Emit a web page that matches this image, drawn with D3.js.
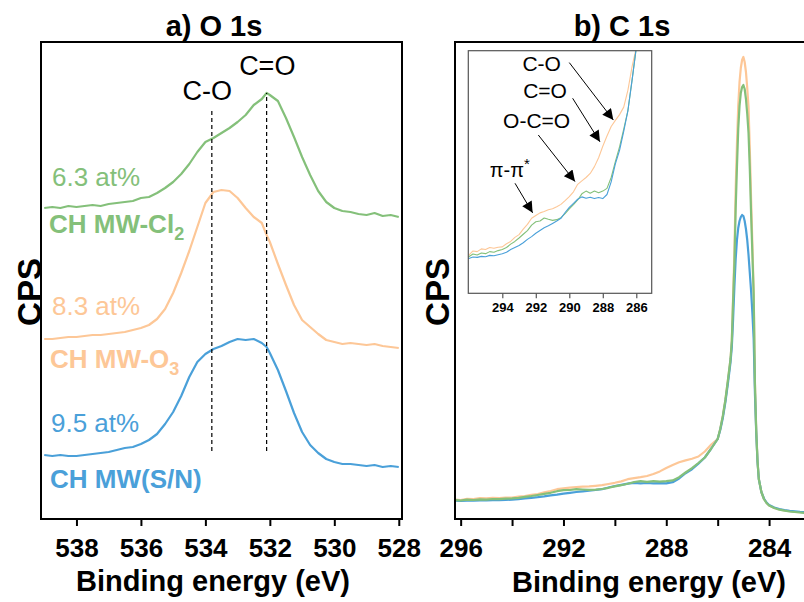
<!DOCTYPE html>
<html><head><meta charset="utf-8">
<script src="https://cdn.jsdelivr.net/npm/d3@7"></script>
<style>
body{margin:0;background:#fff;}
svg{display:block;font-family:"Liberation Sans",Arial,Helvetica,sans-serif;}
</style>
</head><body>
<svg id="chart" width="804" height="602"></svg>
<script>
// ---------------- DATA ----------------
// a) O 1s
const oEnergy = [539.0,538.75,538.5,538.25,538.0,537.75,537.5,537.25,537.0,536.75,536.5,536.25,536.0,535.75,535.5,535.25,535.0,534.75,534.5,534.25,534.0,533.75,533.5,533.25,533.0,532.75,532.5,532.25,532.1,532.0,531.75,531.5,531.25,531.0,530.75,530.5,530.25,530.0,529.75,529.5,529.25,529.0,528.75,528.5,528.25,528.0];
const oCl2 = [311,312,311,313,312,313,314,313,315,316,317,318,321,322,326,331,337,345,355,367,377,381,386,391,397,404,414,420,426,424,418,401,382,362,344,328,317,311,308,307,305,304,306,303,304,302];
const oO3  = [180,180,181,182,182,183,184,184,185,186,187,189,191,194,200,210,226,246,268,292,316,327,329,328,321,311,302,296,284,277,255,234,214,199,192,185,179,177,175,176,175,174,175,173,172,171];
const oSN  = [64,63,64,63,63,64,65,66,67,69,71,72,75,79,85,95,107,123,142,157,165,170,173,177,180,179,180,176,172,166,149,128,106,87,74,66,60,57,55,55,54,53,54,52,53,52];
const oTicks = [538,536,534,532,530,528];
const oMarkers = [{label:"C-O", energy:533.8, top:409}, {label:"C=O", energy:532.1, top:426}];

// b) C 1s
const cEnergy = [296.2,296.0,295.75,295.5,295.25,295.0,294.75,294.5,294.25,294.0,293.75,293.5,293.25,293.0,292.75,292.5,292.25,292.0,291.75,291.5,291.25,291.0,290.75,290.5,290.25,290.0,289.75,289.5,289.25,289.0,288.75,288.5,288.25,288.0,287.75,287.5,287.25,287.0,286.75,286.5,286.25,
  286.0,285.9,285.8,285.7,285.6,285.5,285.45,285.4,285.35,285.3,285.25,285.2,285.15,285.1,285.05,285.0,284.95,284.9,284.85,284.8,284.75,284.7,284.65,284.6,284.55,284.5,284.45,284.4,284.3,284.2,284.1,284.0,283.8,283.6,283.4,283.2,283.0,282.8,282.6,282.4];
const cO3 = [19.5,19.0,20.2,20.0,20.8,20.6,21.2,21.0,21.3,21.4,22.3,23.0,24.2,25.0,26.6,28.0,29.8,30.6,31.4,31.8,32.3,32.6,33.2,33.9,35.0,36.2,37.6,39.8,40.8,41.8,43.0,45.0,47.6,51.0,54.0,56.8,58.6,60.3,62.5,67.5,74.5,
  80,90,103,119,139,160,178,222,265,330,375,413,437,451,459,462,457,447,431,412,370,320,275,228,135,88,58,40,27,20,16,13.5,11,9.5,8.5,7.8,7.2,6.8,6.4,6.2];
const cCl2 = [18.8,18.5,19.3,19.0,19.6,19.4,20.0,19.8,20.3,20.6,21.2,22.2,23.0,24.0,25.1,26.2,27.8,28.8,29.0,29.9,29.5,29.2,29.4,30.0,31.2,32.6,33.8,35.2,37.0,37.8,37.2,37.8,37.3,37.8,38.6,41.8,46.5,50.8,56.0,61.5,70.5,
  80,90,103,119,139,160,178,218,255,310,352,390,413,426,432,434,430,420,405,386,350,305,265,225,135,88,58,40,27,20,16,13.5,11,9.3,8.3,7.5,7.0,6.5,6.1,5.9];
const cSN = [18.3,18.0,18.4,18.3,18.6,18.5,18.9,18.8,19.1,19.4,19.8,20.6,21.2,21.8,22.6,23.6,24.4,25.4,26.2,27.0,27.6,28.3,29.0,29.8,31.5,33.0,34.2,35.4,36.1,35.7,36.0,35.6,35.9,35.6,36.8,40.5,45.8,49.8,55.4,61.5,70.5,
  80,89,101,117,136,157,172,200,232,260,279,291,298,302,304,303,298,290,279,264,246,228,206,180,125,86,57,40,27,20.5,16.5,14,11.5,10,9,8.2,7.6,7.1,6.8,6.6];
const cTicks = [296,294,292,290,288,286,284];
const cTickLabels = [296,292,288,284];
const insetTicks = [294,292,290,288,286];
const insetNotes = [
  {label:"C-O",   tx:291.65, ty:73.2, x0:290.0,  y0:75.6, x1:287.37, y1:58.7},
  {label:"C=O",   tx:291.45, ty:65.1, x0:289.8,  y0:65.1, x1:288.17, y1:52.3},
  {label:"O-C=O", tx:291.95, ty:56.3, x0:291.85, y0:54.3, x1:289.66, y1:40.6},
  {label:"π-π",   tx:293.55, ty:42.0, x0:293.24, y0:40.1, x1:292.19, y1:31.4, sup:"*"}
];

// ---------------- STYLE ----------------
const COL = {SN:"#4aa0d9", O3:"#fdc797", Cl2:"#84c07a"};
const FONT = '"Liberation Sans",Arial,Helvetica,sans-serif';

const svg = d3.select("#chart");

// ============ PANEL A ============
const A = {l:41, r:402, t:42, b:519};
const ax = d3.scaleLinear().domain([539.1, 527.9]).range([A.l, A.r]);
const ay = d3.scaleLinear().domain([0, 477]).range([A.b, A.t]);

svg.append("text").attr("x",214).attr("y",36).attr("text-anchor","middle")
  .attr("font-size",29).attr("font-weight","bold").text("a) O 1s");

const lineA = (arr) => d3.line().x((d,i)=>ax(oEnergy[i])).y(d=>ay(d))(arr);
[[oCl2,COL.Cl2],[oO3,COL.O3],[oSN,COL.SN]].forEach(([arr,c])=>{
  svg.append("path").attr("d",lineA(arr)).attr("fill","none").attr("stroke",c)
    .attr("stroke-width",2.2).attr("stroke-linejoin","round");
});

// dashed markers
oMarkers.forEach(m=>{
  svg.append("line").attr("x1",ax(m.energy)).attr("x2",ax(m.energy))
    .attr("y1",ay(68)).attr("y2",ay(m.top))
    .attr("stroke","#000").attr("stroke-width",1.2).attr("stroke-dasharray","4,3");
});
svg.append("text").attr("x",ax(533.94)).attr("y",ay(419)).attr("text-anchor","middle")
  .attr("font-size",27).text("C-O");
svg.append("text").attr("x",ax(532.08)).attr("y",ay(444)).attr("text-anchor","middle")
  .attr("font-size",27).text("C=O");

// labels
function label(x,y,txt,sub,color,bold){
  const t = svg.append("text").attr("x",x).attr("y",y).attr("fill",color)
    .attr("font-size",26).attr("font-weight",bold?"bold":"normal");
  t.append("tspan").text(txt);
  if(sub) t.append("tspan").attr("dy",7).attr("font-size",18).text(sub);
}
label(52,186,"6.3 at%",null,COL.Cl2,false);
label(49,233,"CH MW-Cl","2",COL.Cl2,true);
label(52,315,"8.3 at%",null,COL.O3,false);
label(50,368,"CH MW-O","3",COL.O3,true);
label(51,432,"9.5 at%",null,COL.SN,false);
label(50,488,"CH MW(S/N)",null,COL.SN,true);

// frame
svg.append("rect").attr("x",A.l).attr("y",A.t).attr("width",A.r-A.l).attr("height",A.b-A.t)
  .attr("fill","none").attr("stroke","#000").attr("stroke-width",2);
const axA = svg.append("g").attr("transform",`translate(0,${A.b})`)
  .call(d3.axisBottom(ax).tickValues(oTicks).tickSize(7).tickPadding(13).tickFormat(d3.format("d")));
axA.select(".domain").remove();
axA.selectAll("line").attr("stroke-width",2);
axA.selectAll("text").attr("font-size",26).attr("font-weight","bold").attr("font-family",FONT).attr("fill","#000");

svg.append("text").attr("x",213).attr("y",591).attr("text-anchor","middle")
  .attr("font-size",29).attr("font-weight","bold").text("Binding energy (eV)");
svg.append("text").attr("transform","translate(41,292) rotate(-90)").attr("text-anchor","middle")
  .attr("font-size",33).attr("font-weight","bold").text("CPS");

// ============ PANEL B ============
const B = {l:455, r:830, t:42, b:519};
const bx = d3.scaleLinear().domain([296.22, 281.63]).range([B.l, B.r]);
const by = d3.scaleLinear().domain([0, 477]).range([B.b, B.t]);

svg.append("text").attr("x",622).attr("y",36).attr("text-anchor","middle")
  .attr("font-size",29).attr("font-weight","bold").text("b) C 1s");

const defs = svg.append("defs");
defs.append("clipPath").attr("id","clipB").append("rect")
  .attr("x",B.l).attr("y",B.t).attr("width",B.r-B.l).attr("height",B.b-B.t);

const lineB = (arr) => d3.line().x((d,i)=>bx(cEnergy[i])).y(d=>by(d))(arr);
const gB = svg.append("g").attr("clip-path","url(#clipB)");
[[cO3,COL.O3],[cSN,COL.SN],[cCl2,COL.Cl2]].forEach(([arr,c])=>{
  gB.append("path").attr("d",lineB(arr)).attr("fill","none").attr("stroke",c)
    .attr("stroke-width",2.2).attr("stroke-linejoin","round");
});

// frame (left, top, bottom)
svg.append("path").attr("d",`M${B.r},${B.t}H${B.l}V${B.b}H${B.r}`)
  .attr("fill","none").attr("stroke","#000").attr("stroke-width",2);
const axB = svg.append("g").attr("transform",`translate(0,${B.b})`)
  .call(d3.axisBottom(bx).tickValues(cTicks).tickSize(7).tickPadding(13)
    .tickFormat(d=>cTickLabels.includes(d)?String(d):""));
axB.select(".domain").remove();
axB.selectAll("line").attr("stroke-width",2);
axB.selectAll("text").attr("font-size",26).attr("font-weight","bold").attr("font-family",FONT).attr("fill","#000");

svg.append("text").attr("x",649).attr("y",592).attr("text-anchor","middle")
  .attr("font-size",29).attr("font-weight","bold").text("Binding energy (eV)");
svg.append("text").attr("transform","translate(449,292) rotate(-90)").attr("text-anchor","middle")
  .attr("font-size",33).attr("font-weight","bold").text("CPS");

// ----- inset -----
const I = {l:468.3, r:651.7, t:50.7, b:293.3};
const ix = d3.scaleLinear().domain([296.03, 285.08]).range([I.l, I.r]);
const iy = d3.scaleLinear().domain([7.74, 79.1]).range([I.b, I.t]);
svg.append("rect").attr("x",I.l).attr("y",I.t).attr("width",I.r-I.l).attr("height",I.b-I.t)
  .attr("fill","#fff").attr("stroke","none");
defs.append("clipPath").attr("id","clipI").append("rect")
  .attr("x",I.l).attr("y",I.t).attr("width",I.r-I.l).attr("height",I.b-I.t);
const lineI = (arr) => d3.line().x((d,i)=>ix(cEnergy[i])).y(d=>iy(d))(arr);
const gI = svg.append("g").attr("clip-path","url(#clipI)");
[[cO3,COL.O3],[cCl2,COL.Cl2],[cSN,COL.SN]].forEach(([arr,c])=>{
  gI.append("path").attr("d",lineI(arr)).attr("fill","none").attr("stroke",c)
    .attr("stroke-width",1.1).attr("stroke-linejoin","round");
});
svg.append("rect").attr("x",I.l).attr("y",I.t).attr("width",I.r-I.l).attr("height",I.b-I.t)
  .attr("fill","none").attr("stroke","#555").attr("stroke-width",1.2);
const axI = svg.append("g").attr("transform",`translate(0,${I.b})`)
  .call(d3.axisBottom(ix).tickValues(insetTicks).tickSize(5).tickPadding(4).tickFormat(d3.format("d")));
axI.select(".domain").remove();
axI.selectAll("line").attr("stroke","#555").attr("stroke-width",1.2);
axI.selectAll("text").attr("font-size",13).attr("font-weight","bold").attr("font-family",FONT).attr("fill","#000");

// arrows
defs.append("marker").attr("id","arrow").attr("viewBox","0 0 10 10").attr("refX",10).attr("refY",5)
  .attr("markerWidth",13).attr("markerHeight",11).attr("markerUnits","userSpaceOnUse").attr("orient","auto")
  .append("path").attr("d","M0,0L10,5L0,10Z").attr("fill","#000");
insetNotes.forEach(n=>{
  svg.append("line").attr("x1",ix(n.x0)).attr("y1",iy(n.y0)).attr("x2",ix(n.x1)).attr("y2",iy(n.y1))
    .attr("stroke","#000").attr("stroke-width",1).attr("marker-end","url(#arrow)");
  const t = svg.append("text").attr("x",ix(n.tx)).attr("y",iy(n.ty)).attr("text-anchor","middle")
    .attr("font-size",n.sup?20:21);
  t.append("tspan").text(n.label);
  if(n.sup) t.append("tspan").attr("dy",-8).attr("font-size",15).text(n.sup);
});
</script>
</body></html>
